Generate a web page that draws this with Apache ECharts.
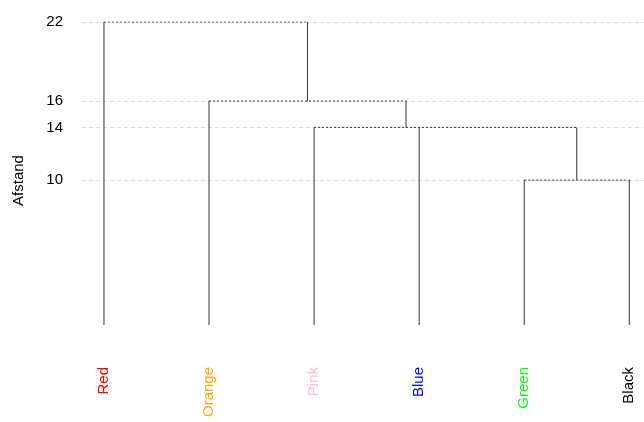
<!DOCTYPE html>
<html><head><meta charset="utf-8">
<script src="https://cdn.jsdelivr.net/npm/echarts@6/dist/echarts.min.js"></script>
<style>html,body{margin:0;padding:0;background:#fff}#c{width:644px;height:422px}</style>
</head><body><div id="c"></div>
<script>
// Leaves (in plotted order) and their label colours
const leafNames = ['Red', 'Orange', 'Pink', 'Blue', 'Green', 'Black'];
const leafColors = ['#ff0000', '#ffa500', '#ffc0cb', '#0000ff', '#00ff00', '#000000'];
// Merges: [left child, right child, height]; negative = leaf index (-(i+1)), positive = earlier merge (1-based)
const mergeLeft  = [-5, -4, -3, -2, -1];
const mergeRight = [-6,  1,  2,  3,  4];
const mergeHeight = [10, 14, 14, 16, 22];
// Height at which the leaves hang down to
const leafHeight = -1;
// y tick labels
const yTicks = [10, 14, 16, 22];

// compute node positions (x in leaf-index units, y in distance units)
const nodeX = [], nodeY = [];
function childPos(c) {
  if (c < 0) return [-c - 1, leafHeight];
  return [nodeX[c - 1], nodeY[c - 1]];
}
const vData = [];
const hSegs = {}; // height -> list of [x0,x1]
for (let i = 0; i < mergeHeight.length; i++) {
  const a = childPos(mergeLeft[i]), b = childPos(mergeRight[i]);
  const h = mergeHeight[i];
  nodeX.push((a[0] + b[0]) / 2); nodeY.push(h);
  vData.push([a[0], a[1]], [a[0], h], '-', [b[0], b[1]], [b[0], h], '-');
  (hSegs[h] = hSegs[h] || []).push([Math.min(a[0], b[0]), Math.max(a[0], b[0])]);
}
// merge overlapping horizontal segments at equal heights so dashes stay clean
const hData = [];
Object.keys(hSegs).forEach(k => {
  const segs = hSegs[k].sort((p, q) => p[0] - q[0]);
  const out = [];
  segs.forEach(s => {
    const last = out[out.length - 1];
    if (last && s[0] <= last[1]) last[1] = Math.max(last[1], s[1]);
    else out.push([s[0], s[1]]);
  });
  out.forEach(s => hData.push([s[0], +k], [s[1], +k], '-'));
});

const rich = {};
leafNames.forEach((n, i) => { rich['c' + i] = { color: leafColors[i], fontSize: 15, fontFamily: 'Liberation Sans, Arial, sans-serif' }; });

const chart = echarts.init(document.getElementById('c'));
chart.setOption({
  animation: false,
  backgroundColor: '#fff',
  grid: { left: 82, right: 0, top: 22, bottom: 97, containLabel: false },
  xAxis: {
    type: 'value', min: -0.209, max: 5.14,
    axisLine: { show: false }, axisTick: { show: false }, splitLine: { show: false },
    axisLabel: {
      customValues: leafNames.map((n, i) => i),
      rotate: 90, margin: 42,
      formatter: v => { const i = Math.round(v); return '{c' + i + '|' + leafNames[i] + '}'; },
      rich: rich
    }
  },
  yAxis: {
    type: 'value', min: -1, max: 22,
    name: 'Afstand', nameLocation: 'middle', nameGap: 56, nameRotate: 90,
    nameTextStyle: { fontSize: 15, color: '#000', fontFamily: 'Liberation Sans, Arial, sans-serif', padding: [0, 14, 0, 0] },
    axisLine: { show: false },
    axisTick: { show: false, customValues: yTicks },
    axisLabel: { customValues: yTicks, margin: 19, fontSize: 15, color: '#000', fontFamily: 'Liberation Sans, Arial, sans-serif' },
    splitLine: { show: true, lineStyle: { color: '#dcdcdc', type: [4, 3], width: 1 } }
  },
  series: [
    { type: 'line', data: hData, symbol: 'none', connectNulls: false,
      lineStyle: { color: '#333', width: 1, type: [2, 2] }, silent: true },
    { type: 'line', data: vData, symbol: 'none', connectNulls: false,
      lineStyle: { color: '#333', width: 1, type: 'solid' }, silent: true }
  ]
});
</script></body></html>
